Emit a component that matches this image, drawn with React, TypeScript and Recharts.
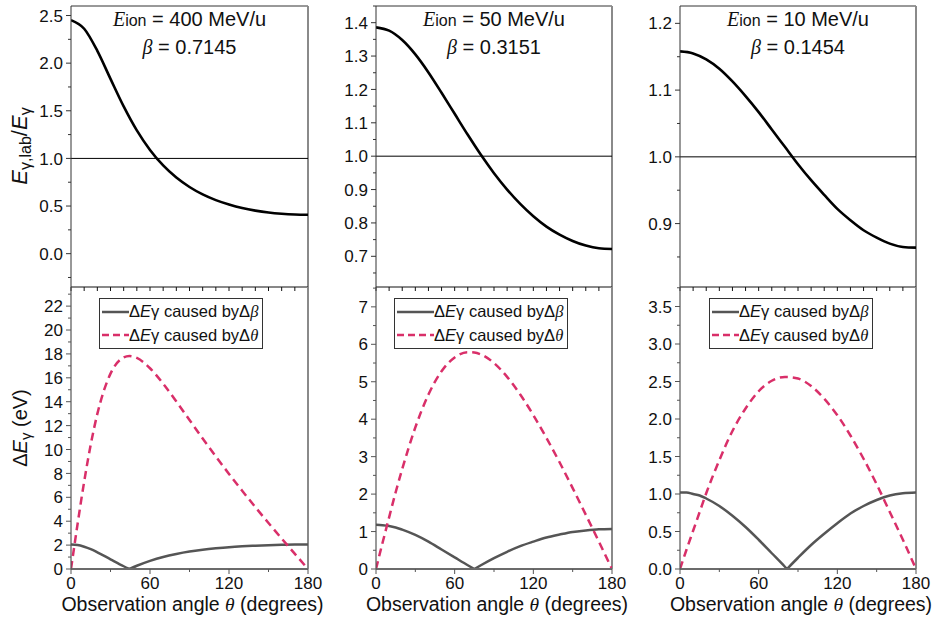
import { LineChart, Line, XAxis, YAxis, ReferenceLine, Legend } from 'recharts';

const FONT = '"Liberation Sans", Arial, Helvetica, sans-serif';
const SERIF = '"Liberation Serif", "Times New Roman", serif';
const PINK = '#d92f69';
const GRAY = '#555555';

// top row: E_lab / E ratio, sampled every 10 degrees
const THETA_TOP = [0, 10, 20, 30, 40, 50, 60, 70, 80, 90, 100, 110, 120, 130, 140, 150, 160, 170, 180];
const RATIO_400 = [2.451, 2.361, 2.129, 1.835, 1.546, 1.294, 1.089, 0.926, 0.799, 0.700, 0.622, 0.562, 0.516, 0.479, 0.452, 0.432, 0.419, 0.411, 0.408];
const RATIO_50 = [1.386, 1.376, 1.348, 1.305, 1.251, 1.190, 1.127, 1.064, 1.004, 0.949, 0.900, 0.857, 0.820, 0.789, 0.765, 0.746, 0.732, 0.724, 0.722];
const RATIO_10 = [1.158, 1.155, 1.146, 1.132, 1.113, 1.091, 1.067, 1.041, 1.015, 0.989, 0.965, 0.943, 0.922, 0.905, 0.890, 0.879, 0.870, 0.865, 0.864];

// bottom row: energy spread (eV)
const THETA_400 = [0, 5, 10, 15, 20, 30, 40, 44.4, 50, 60, 70, 80, 90, 100, 110, 120, 130, 140, 150, 160, 170, 180];
const DBETA_400 = [2.04, 2.0, 1.86, 1.66, 1.4, 0.81, 0.23, 0, 0.27, 0.68, 1.01, 1.26, 1.46, 1.61, 1.73, 1.83, 1.9, 1.95, 1.99, 2.02, 2.04, 2.04];
const DTHETA_400 = [0, 3.77, 7.31, 10.42, 12.98, 16.35, 17.7, 17.82, 17.66, 16.8, 15.51, 14.02, 12.47, 10.92, 9.42, 7.96, 6.55, 5.18, 3.85, 2.55, 1.27, 0];

const THETA_50 = [0, 5, 10, 15, 20, 30, 40, 50, 60, 70, 75, 80, 90, 100, 110, 120, 130, 140, 150, 160, 170, 180];
const DBETA_50 = [1.18, 1.17, 1.15, 1.11, 1.05, 0.91, 0.73, 0.52, 0.31, 0.1, 0, 0.1, 0.29, 0.46, 0.61, 0.73, 0.84, 0.92, 0.99, 1.03, 1.06, 1.07];
const DTHETA_50 = [0, 0.7, 1.38, 2.05, 2.67, 3.78, 4.66, 5.28, 5.65, 5.79, 5.78, 5.73, 5.5, 5.13, 4.66, 4.11, 3.5, 2.85, 2.16, 1.45, 0.73, 0];

const THETA_10 = [0, 5, 10, 15, 20, 30, 40, 50, 60, 70, 80, 81.6, 90, 100, 110, 120, 130, 140, 150, 160, 170, 180];
const DBETA_10 = [1.02, 1.02, 1.0, 0.98, 0.94, 0.84, 0.71, 0.56, 0.39, 0.21, 0.03, 0, 0.15, 0.32, 0.47, 0.61, 0.74, 0.84, 0.92, 0.98, 1.01, 1.02];
const DTHETA_10 = [0, 0.26, 0.51, 0.76, 1.01, 1.45, 1.84, 2.14, 2.37, 2.51, 2.56, 2.56, 2.54, 2.44, 2.27, 2.05, 1.78, 1.47, 1.13, 0.76, 0.39, 0];

// tick labels
const TOP_X_TICKS = [0, 10, 20, 30, 40, 50, 60, 70, 80, 90, 100, 110, 120, 130, 140, 150, 160, 170, 180];
const X_TICKS = [0, 30, 60, 90, 120, 150, 180];
const X_MAJORS = [0, 60, 120, 180];

const Y_MAJ_400 = [0, 0.5, 1, 1.5, 2, 2.5];
const Y_MIN_400 = [-0.25, 0.25, 0.75, 1.25, 1.75, 2.25];
const Y_MAJ_50 = [0.7, 0.8, 0.9, 1.0, 1.1, 1.2, 1.3, 1.4];
const Y_MIN_50 = [0.65, 0.75, 0.85, 0.95, 1.05, 1.15, 1.25, 1.35, 1.45];
const Y_MAJ_10 = [0.9, 1.0, 1.1, 1.2];
const Y_MIN_10 = [0.85, 0.95, 1.05, 1.15];

const DY_MAJ_400 = [0, 2, 4, 6, 8, 10, 12, 14, 16, 18, 20, 22];
const DY_MIN_400 = [1, 3, 5, 7, 9, 11, 13, 15, 17, 19, 21, 23];
const DY_MAJ_50 = [0, 1, 2, 3, 4, 5, 6, 7];
const DY_MIN_50 = [0.5, 1.5, 2.5, 3.5, 4.5, 5.5, 6.5, 7.5];
const DY_MAJ_10 = [0, 0.5, 1, 1.5, 2, 2.5, 3, 3.5];
const DY_MIN_10 = [0.25, 0.75, 1.25, 1.75, 2.25, 2.75, 3.25, 3.75];

const ENERGIES = ['400', '50', '10'];
const BETAS = ['0.7145', '0.3151', '0.1454'];

const AX = 70;
const RM = 20;
const PLOT_LEFT = [71, 376, 680];
const PLOT_W = [237, 236, 236];

const near = (list: number[], v: number) => list.some((m) => Math.abs(m - v) < 1e-6);

const makeYTick = (majors: number[], digits: number, color: string) => (props: any) => {
  const { x, y, payload } = props;
  const major = near(majors, payload.value);
  return (
    <g>
      <line x1={x} x2={x - (major ? 5 : 3)} y1={y} y2={y} stroke={color} strokeWidth={1} />
      {major && (
        <text x={x - 8} y={y} dy="0.36em" textAnchor="end" fontFamily={FONT} fontSize={17} fill="#111">
          {payload.value.toFixed(digits)}
        </text>
      )}
    </g>
  );
};

const topXTick = (props: any) => {
  const { x, y } = props;
  return <line x1={x} x2={x} y1={y} y2={y + 4} stroke="#111" strokeWidth={1} />;
};

const bottomXTick = (props: any) => {
  const { x, y, payload } = props;
  const major = near(X_MAJORS, payload.value);
  return (
    <g>
      <line x1={x} x2={x} y1={y} y2={y + (major ? 5 : 3)} stroke="#555" strokeWidth={1} />
      {major && (
        <text x={x} y={y + 8} dy="0.72em" textAnchor="middle" fontFamily={FONT} fontSize={17} fill="#111">
          {payload.value}
        </text>
      )}
    </g>
  );
};

function RatioPanel({ idx, values, domain, majors, minors }: any) {
  const data = THETA_TOP.map((t, i) => ({ theta: t, ratio: values[i] }));
  return (
    <div style={{ position: 'absolute', left: PLOT_LEFT[idx] - AX, top: 0 }}>
      <LineChart width={AX + PLOT_W[idx] + RM} height={295} data={data} margin={{ top: 6, right: RM, bottom: 0, left: 0 }}>
        <XAxis type="number" dataKey="theta" domain={[0, 180]} ticks={TOP_X_TICKS} interval={0} height={8}
          tickSize={0} tickMargin={0} tickLine={false} tick={topXTick} axisLine={{ stroke: '#111' }} allowDataOverflow />
        <YAxis type="number" domain={domain} ticks={[...majors, ...minors]} interval={0} width={AX}
          tickSize={0} tickMargin={0} tickLine={false} tick={makeYTick(majors, 1, '#333')} axisLine={{ stroke: '#333' }} allowDataOverflow />
        <ReferenceLine y={domain[1]} stroke="#333" />
        <ReferenceLine x={180} stroke="#8a8a8a" strokeWidth={2} />
        <ReferenceLine y={1} stroke="#000" strokeWidth={1} />
        <Line type="monotone" dataKey="ratio" stroke="#000" strokeWidth={2.6} dot={false} activeDot={false} isAnimationActive={false} />
      </LineChart>
    </div>
  );
}

function SpreadLegend({ sample }: { sample: number }) {
  const row = { display: 'flex', alignItems: 'center' } as const;
  return (
    <div style={{ border: '1px solid #333', background: '#fff', padding: '1px 4px 1px 2px', fontFamily: FONT, fontSize: 16.5, lineHeight: '22.5px', color: '#111', whiteSpace: 'nowrap' }}>
      <div style={row}>
        <svg width={sample} height={8}><line x1={0} x2={sample} y1={4} y2={4} stroke={GRAY} strokeWidth={2.5} /></svg>
        <span>Δ<i>E</i>γ caused byΔ<i style={{ fontFamily: SERIF }}>β</i></span>
      </div>
      <div style={row}>
        <svg width={sample} height={8}><line x1={0} x2={sample} y1={4} y2={4} stroke={PINK} strokeWidth={2.5} strokeDasharray="7 4" /></svg>
        <span>Δ<i>E</i>γ caused byΔ<i style={{ fontFamily: SERIF }}>θ</i></span>
      </div>
    </div>
  );
}

function SpreadPanel({ idx, theta, dBeta, dTheta, domain, majors, minors, digits, legendX, sample }: any) {
  const cusp = dBeta.indexOf(0);
  const data = theta.map((t: number, i: number) => ({
    theta: t,
    dTheta: dTheta[i],
    betaL: i <= cusp ? dBeta[i] : null,
    betaR: i >= cusp ? dBeta[i] : null,
  }));
  return (
    <div style={{ position: 'absolute', left: PLOT_LEFT[idx] - AX, top: 280 }}>
      <LineChart width={AX + PLOT_W[idx] + RM} height={319} data={data} margin={{ top: 7, right: RM, bottom: 0, left: 0 }}>
        <XAxis type="number" dataKey="theta" domain={[0, 180]} ticks={X_TICKS} interval={0} height={30}
          tickSize={0} tickMargin={0} tickLine={false} tick={bottomXTick} axisLine={{ stroke: '#6b6b6b', strokeWidth: 2 }} allowDataOverflow />
        <YAxis type="number" domain={domain} ticks={[...majors, ...minors]} interval={0} width={AX}
          tickSize={0} tickMargin={0} tickLine={false} tick={makeYTick(majors, digits, '#555')} axisLine={{ stroke: '#555', strokeWidth: 1.2 }} allowDataOverflow />
        <ReferenceLine x={180} stroke="#8a8a8a" strokeWidth={2} />
        <Legend layout="vertical" align="center" verticalAlign="middle"
          wrapperStyle={{ left: AX + legendX, top: 18, width: 'auto', height: 'auto' }}
          content={() => <SpreadLegend sample={sample} />} />
        <Line type="monotone" dataKey="betaL" stroke={GRAY} strokeWidth={2.5} dot={false} activeDot={false} isAnimationActive={false} />
        <Line type="monotone" dataKey="betaR" stroke={GRAY} strokeWidth={2.5} dot={false} activeDot={false} isAnimationActive={false} />
        <Line type="monotone" dataKey="dTheta" stroke={PINK} strokeWidth={2.5} strokeDasharray="8 5" dot={false} activeDot={false} isAnimationActive={false} />
      </LineChart>
    </div>
  );
}

const abs = (extra: any) => ({ position: 'absolute', fontFamily: FONT, color: '#111', whiteSpace: 'nowrap', ...extra });

export default function App() {
  return (
    <div style={{ position: 'absolute', left: 0, top: 0, width: 936, height: 632, background: '#fff', overflow: 'hidden' }}>
      <RatioPanel idx={0} values={RATIO_400} domain={[-0.35, 2.6]} majors={Y_MAJ_400} minors={Y_MIN_400} />
      <RatioPanel idx={1} values={RATIO_50} domain={[0.608, 1.45]} majors={Y_MAJ_50} minors={Y_MIN_50} />
      <RatioPanel idx={2} values={RATIO_10} domain={[0.805, 1.226]} majors={Y_MAJ_10} minors={Y_MIN_10} />

      <SpreadPanel idx={0} theta={THETA_400} dBeta={DBETA_400} dTheta={DTHETA_400} domain={[0, 23.6]}
        majors={DY_MAJ_400} minors={DY_MIN_400} digits={0} legendX={28} sample={27} />
      <SpreadPanel idx={1} theta={THETA_50} dBeta={DBETA_50} dTheta={DTHETA_50} domain={[0, 7.53]}
        majors={DY_MAJ_50} minors={DY_MIN_50} digits={0} legendX={18} sample={37} />
      <SpreadPanel idx={2} theta={THETA_10} dBeta={DBETA_10} dTheta={DTHETA_10} domain={[0, 3.76]}
        majors={DY_MAJ_10} minors={DY_MIN_10} digits={1} legendX={29} sample={27} />

      {ENERGIES.map((e, i) => (
        <div key={e} style={abs({ left: PLOT_LEFT[i] + PLOT_W[i] / 2, top: 6, transform: 'translateX(-50%)', textAlign: 'center', fontSize: 20, lineHeight: '27px' })}>
          <div><i style={{ fontFamily: SERIF }}>E</i><span style={{ fontSize: 16 }}>ion</span> = {e} MeV/u</div>
          <div><i style={{ fontFamily: SERIF }}>β</i> = {BETAS[i]}</div>
        </div>
      ))}

      {PLOT_LEFT.map((l, i) => (
        <div key={l} style={abs({ left: l + PLOT_W[i] / 2 + 3, top: 593, transform: 'translateX(-50%)', fontSize: 19.5, lineHeight: '22px' })}>
          Observation angle <i style={{ fontFamily: SERIF }}>θ</i> (degrees)
        </div>
      ))}

      <div style={abs({ left: 21, top: 146, transform: 'translate(-50%, -50%) rotate(-90deg)', fontSize: 22 })}>
        <i>E</i><sub style={{ fontSize: 16, verticalAlign: '-4px' }}>γ,lab</sub>/<i>E</i><sub style={{ fontSize: 16, verticalAlign: '-4px' }}>γ</sub>
      </div>
      <div style={abs({ left: 21, top: 428, transform: 'translate(-50%, -50%) rotate(-90deg)', fontSize: 20 })}>
        Δ<i>E</i><sub style={{ fontSize: 15, verticalAlign: '-4px' }}>γ</sub> (eV)
      </div>
    </div>
  );
}
